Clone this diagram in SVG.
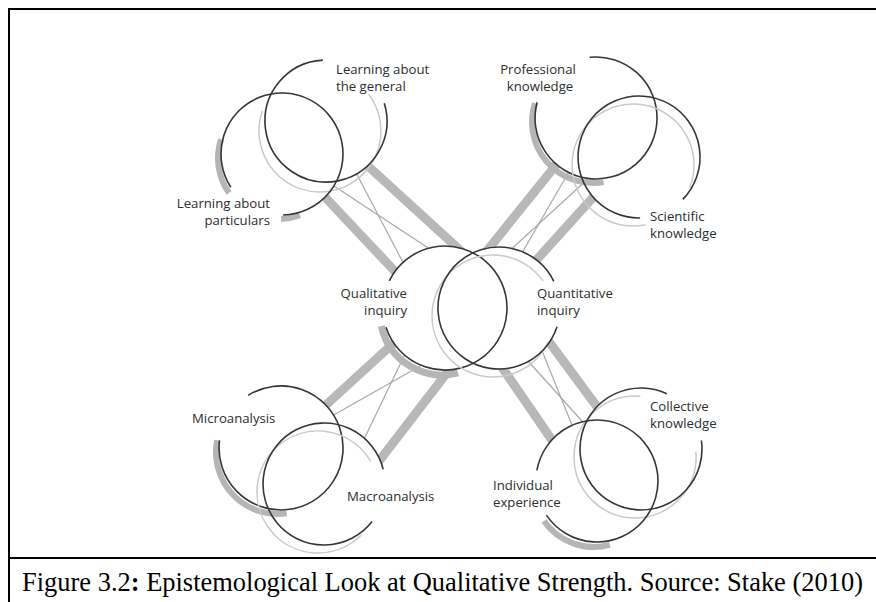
<svg xmlns="http://www.w3.org/2000/svg" width="876" height="602" viewBox="0 0 876 602">
  <style>
    .arc { fill: none; stroke: #363636; stroke-width: 1.6; }
    .ghost { fill: none; stroke: #cacaca; stroke-width: 1.5; }
    .shade { fill: none; stroke: #b5b5b5; stroke-width: 6; }
    .bar { fill: none; stroke: #b8b8b8; stroke-width: 9; }
    .wire { fill: none; stroke: #a9a9a9; stroke-width: 1.2; }
    .disc { fill: #ffffff; stroke: none; }
    .lbl { font-family: "Open Sans", "Liberation Sans", sans-serif; font-size: 13.2px; fill: #2e2e2e; }
    .cap { font-family: "Liberation Serif", "Times New Roman", serif; font-size: 26.4px; fill: #000000; }
    .frame { fill: none; stroke: #000000; stroke-width: 2; }
  </style>

  <rect width="876" height="602" fill="#ffffff"/>

  <!-- frame and caption rule -->
  <g id="frame">
    <path class="frame" d="M9,602 V9 H876"/>
    <path class="frame" d="M9,558 H876"/>
  </g>

  <!-- connectors: thick bands and thin crossing lines -->
  <g id="connectors">
    <line class="bar" x1="351.5" y1="151" x2="473" y2="262"/>
    <line class="bar" x1="308" y1="179" x2="404" y2="281"/>
    <line class="bar" x1="567.7" y1="150.5" x2="476.6" y2="263.7"/>
    <line class="bar" x1="612.8" y1="175.5" x2="531" y2="266"/>
    <line class="bar" x1="309.5" y1="420" x2="397" y2="340"/>
    <line class="bar" x1="364.7" y1="479.8" x2="466" y2="348"/>
    <line class="bar" x1="488.5" y1="347.6" x2="564" y2="457.6"/>
    <line class="bar" x1="544" y1="335" x2="612" y2="427"/>

    <line class="wire" x1="328.6" y1="182.5" x2="445" y2="259"/>
    <line class="wire" x1="353" y1="167" x2="408" y2="272"/>
    <line class="wire" x1="590" y1="177" x2="485.6" y2="272.7"/>
    <line class="wire" x1="570" y1="170" x2="515" y2="265"/>
    <line class="wire" x1="328.3" y1="418" x2="452" y2="348"/>
    <line class="wire" x1="362.7" y1="442" x2="407" y2="350"/>
    <line class="wire" x1="520" y1="352" x2="590" y2="430"/>
    <line class="wire" x1="540.5" y1="347" x2="574" y2="430"/>
  </g>

  <!-- white discs so bands stop at the circle outlines -->
  <g id="discs">
    <circle class="disc" cx="326" cy="121" r="61"/>
    <circle class="disc" cx="282" cy="154" r="61"/>
    <circle class="disc" cx="596" cy="118" r="61"/>
    <circle class="disc" cx="639" cy="157" r="61"/>
    <circle class="disc" cx="445" cy="308" r="62"/>
    <circle class="disc" cx="499" cy="308" r="61"/>
    <circle class="disc" cx="281" cy="448" r="62"/>
    <circle class="disc" cx="324" cy="484" r="61"/>
    <circle class="disc" cx="641" cy="449" r="61"/>
    <circle class="disc" cx="597" cy="481" r="61"/>
  </g>

  <!-- top-left pair -->
  <g id="learning-general">
    <path class="ghost" d="M368.7,94.3 A61,61 0 1 1 262.3,111.1"/>
    <path class="arc" d="M384.3,103.2 A61,61 0 1 1 322.8,60.1"/>
    <text class="lbl" x="336" y="74">Learning about</text>
    <text class="lbl" x="336" y="91">the general</text>
  </g>
  <g id="learning-particulars">
    <path class="shade" d="M299.9,215.3 A61,61 0 0 1 281.1,219.0"/>
    <path class="shade" d="M229.0,193.0 A61,61 0 0 1 221.0,139.2"/>
    <path class="arc" d="M230.8,187.2 A61,61 0 1 1 283.1,215.0"/>
    <text class="lbl" x="270" y="208" text-anchor="end">Learning about</text>
    <text class="lbl" x="270" y="225" text-anchor="end">particulars</text>
  </g>

  <!-- top-right pair -->
  <g id="professional-knowledge">
    <path class="shade" d="M603.6,182.1 A61,61 0 0 1 535.0,103.2"/>
    <path class="arc" d="M589.6,57.3 A61,61 0 1 1 537.1,102.2"/>
    <text class="lbl" x="538" y="74" text-anchor="middle">Professional</text>
    <text class="lbl" x="540" y="91" text-anchor="middle">knowledge</text>
  </g>
  <g id="scientific-knowledge">
    <path class="ghost" d="M645.7,224.7 A61,61 0 1 1 689.6,187.9"/>
    <path class="arc" d="M640.1,218.0 A61,61 0 1 1 682.9,199.4"/>
    <text class="lbl" x="650" y="221">Scientific</text>
    <text class="lbl" x="650" y="238">knowledge</text>
  </g>

  <!-- centre pair -->
  <g id="qualitative-inquiry">
    <path class="shade" d="M458.0,372.9 A62,62 0 0 1 381.4,325.9" style="stroke-width:7"/>
    <path class="arc" d="M389.3,280.8 A62,62 0 1 1 386.0,327.2"/>
    <text class="lbl" x="407" y="298" text-anchor="end">Qualitative</text>
    <text class="lbl" x="407" y="315" text-anchor="end">inquiry</text>
  </g>
  <g id="quantitative-inquiry">
    <path class="ghost" d="M548.3,341.8 A61,61 0 1 1 543.0,281.0"/>
    <path class="arc" d="M557.0,326.8 A61,61 0 1 1 553.8,281.3"/>
    <text class="lbl" x="537" y="298">Quantitative</text>
    <text class="lbl" x="537" y="315">inquiry</text>
  </g>

  <!-- bottom-left pair -->
  <g id="microanalysis">
    <path class="shade" d="M286.6,513.4 A62,62 0 0 1 217.1,440.2"/>
    <path class="arc" d="M248.1,395.4 A62,62 0 1 1 219.5,440.4"/>
    <text class="lbl" x="192" y="423">Microanalysis</text>
  </g>
  <g id="macroanalysis">
    <path class="ghost" d="M361.1,535.1 A61,61 0 1 1 370.8,461.5"/>
    <path class="arc" d="M372.1,521.6 A61,61 0 1 1 383.2,469.2"/>
    <text class="lbl" x="347" y="501">Macroanalysis</text>
  </g>

  <!-- bottom-right pair -->
  <g id="collective-knowledge">
    <path class="ghost" d="M695.8,451.7 A61,61 0 1 1 640.3,396.2"/>
    <path class="arc" d="M701.4,440.5 A61,61 0 1 1 666.8,393.7"/>
    <text class="lbl" x="650" y="411">Collective</text>
    <text class="lbl" x="650" y="428">knowledge</text>
  </g>
  <g id="individual-experience">
    <path class="shade" d="M609.8,544.9 A61,61 0 0 1 544.0,521.0"/>
    <path class="arc" d="M536.9,470.4 A61,61 0 1 1 546.4,515.1"/>
    <text class="lbl" x="493" y="490">Individual</text>
    <text class="lbl" x="493" y="507">experience</text>
  </g>

  <!-- caption -->
  <g id="caption">
    <text class="cap" x="22" y="591" textLength="841" lengthAdjust="spacingAndGlyphs">Figure 3.2<tspan font-weight="bold">:</tspan> Epistemological Look at Qualitative Strength. Source: Stake (2010)</text>
  </g>
</svg>
